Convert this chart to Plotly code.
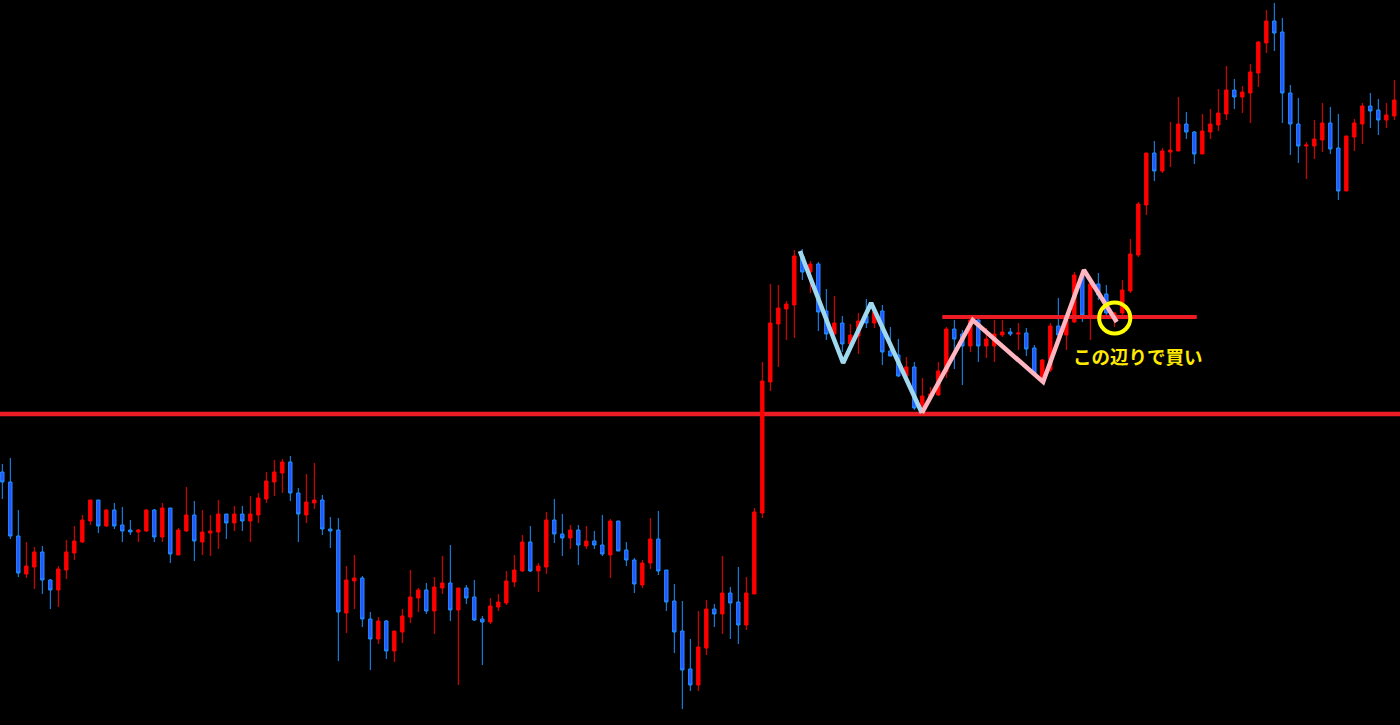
import plotly.graph_objects as go

opens = [253,243,189,151,158,173,145,135,155,172,
         183,204,225,199,215,200,195,193,194,215,
         188,217,170,194,210,183,192,193,211,202,
         211,204,210,226,243,252,263,232,210,222,
         225,196,195,112,144,147,106,86,104,74,
         93,108,127,135,114,137,142,115,137,128,
         106,103,118,122,143,154,183,154,158,205,
         191,187,195,179,184,180,170,204,175,165,
         140,162,186,155,124,94,56,40,77,116,
         111,132,123,100,131,212,343,401,416,420,
         469,453,461,414,391,402,381,389,409,402,
         414,374,370,349,358,313,328,330,353,396,
         391,379,405,379,379,390,393,391,392,377,
         343,355,399,390,403,450,409,441,431,407,
         412,434,470,520,572,554,573,574,601,593,
         571,593,600,611,635,628,632,652,682,704,
         693,632,601,579,579,585,602,577,534,588,
         601,619,615,605,609]
highs = [261,267,215,183,178,179,146,159,185,199,
         210,225,225,216,222,218,205,196,216,216,
         222,217,197,238,224,215,210,225,211,219,
         219,229,232,253,265,266,269,237,251,262,
         230,208,207,159,170,149,113,108,105,94,
         116,155,137,142,148,169,180,137,140,145,
         109,127,131,154,170,190,199,162,213,226,
         211,200,200,199,194,210,206,204,183,167,
         165,207,214,155,141,124,86,114,125,121,
         169,138,158,148,217,363,441,440,424,475,
         476,464,463,436,429,409,401,412,426,415,
         420,398,386,368,363,347,338,363,398,405,
         395,407,407,397,405,405,397,402,397,380,
         366,402,427,407,453,453,442,452,440,413,
         445,486,523,572,584,577,603,628,613,594,
         611,616,636,659,646,639,661,684,715,722,
         707,640,627,583,605,622,618,611,589,606,
         622,632,626,622,645]
lows = [226,186,148,147,136,131,116,118,146,165,
        182,200,192,198,196,183,190,183,193,183,
        183,162,170,193,164,170,169,176,186,194,
        194,183,202,222,229,232,224,183,202,216,
        190,177,64,92,116,98,55,81,66,63,
        82,102,113,111,91,131,104,40,121,104,
        60,101,114,120,138,153,153,133,151,182,
        169,176,160,176,176,169,147,174,159,132,
        137,156,150,114,72,16,34,34,70,98,
        91,86,81,95,131,207,334,358,385,387,
        445,432,394,385,391,373,377,371,397,397,
        360,369,348,343,315,311,325,329,347,356,
        340,373,363,367,363,388,389,375,369,350,
        342,353,387,375,402,403,385,425,407,398,
        407,432,468,510,544,552,558,574,586,561,
        571,586,594,605,616,612,602,638,672,674,
        602,570,562,546,566,573,571,525,534,574,
        581,597,590,597,605]
closes = [243,189,152,159,173,145,135,156,173,184,
          205,225,199,215,199,194,193,195,215,188,
          217,171,195,210,184,193,194,211,202,211,
          204,211,227,244,253,263,232,211,223,225,
          196,194,113,145,147,106,86,104,74,94,
          109,128,135,114,138,142,115,137,127,105,
          103,119,123,144,155,183,154,159,205,191,
          187,195,180,184,180,171,204,174,165,141,
          162,186,154,123,93,55,40,78,116,111,
          132,122,100,132,213,344,402,417,421,469,
          453,461,413,391,402,381,390,404,402,413,
          373,369,349,358,317,329,331,354,396,386,
          379,405,379,386,391,393,391,392,376,352,
          365,399,390,405,450,410,441,430,412,412,
          435,471,521,572,554,574,575,601,593,571,
          594,601,612,635,628,633,653,683,704,692,
          632,601,579,580,586,602,576,534,589,602,
          619,614,605,610,625]
bars = list(range(len(opens)))

# drawn analysis
support_level = 311
neckline_level = 408
neckline_x = [117.5, 149.3]
blue_zz_x = [99.7, 105.1, 108.6, 114.95]
blue_zz_y = [474, 362, 422, 312]
pink_zz_x = [114.95, 121.3, 130.1, 135.2, 139.3]
pink_zz_y = [312, 405, 343, 455, 403]
label_text = "この辺りで買い"

fig = go.Figure()
fig.add_trace(go.Candlestick(
    x=bars, open=opens, high=highs, low=lows, close=closes,
    increasing=dict(line=dict(color="#ff0000", width=1), fillcolor="#ff0000"),
    decreasing=dict(line=dict(color="#1e90ff", width=1), fillcolor="#2a52ff"),
    whiskerwidth=0, hoverinfo="skip", showlegend=False,
))
fig.add_trace(go.Scatter(x=neckline_x, y=[neckline_level, neckline_level], mode="lines",
                         line=dict(color="#ec1c24", width=4), hoverinfo="skip", showlegend=False))
fig.add_trace(go.Scatter(x=blue_zz_x, y=blue_zz_y, mode="lines",
                         line=dict(color="#a0d8ef", width=4.5), hoverinfo="skip", showlegend=False))
fig.add_trace(go.Scatter(x=pink_zz_x, y=pink_zz_y, mode="lines",
                         line=dict(color="#ffb6c1", width=4.5), hoverinfo="skip", showlegend=False))

fig.add_shape(type="line", xref="paper", x0=0, x1=1, yref="y", y0=support_level, y1=support_level,
              line=dict(color="#ec1c24", width=4.5), layer="below")
fig.add_shape(type="circle", xref="x", yref="y", x0=137.1, x1=141.0, y0=391.5, y1=422.5,
              line=dict(color="#ffff00", width=4))
fig.add_annotation(x=142.0, y=369.0, xref="x", yref="y", text="<b>" + label_text + "</b>",
                   showarrow=False, font=dict(family="Noto Sans CJK JP", size=18.5, color="#ffea00"))

fig.update_layout(
    width=1400, height=725, margin=dict(l=0, r=0, t=0, b=0),
    paper_bgcolor="#000000", plot_bgcolor="#000000", showlegend=False,
    xaxis=dict(range=[-0.29, 174.71], visible=False, showgrid=False, rangeslider=dict(visible=False)),
    yaxis=dict(range=[0, 725], visible=False, showgrid=False),
    boxgap=0.4,
)
fig.write_html("out.html", config={"displayModeBar": False},
               post_script="document.body.style.margin='0';document.body.style.background='#000';document.body.style.overflow='hidden';")
